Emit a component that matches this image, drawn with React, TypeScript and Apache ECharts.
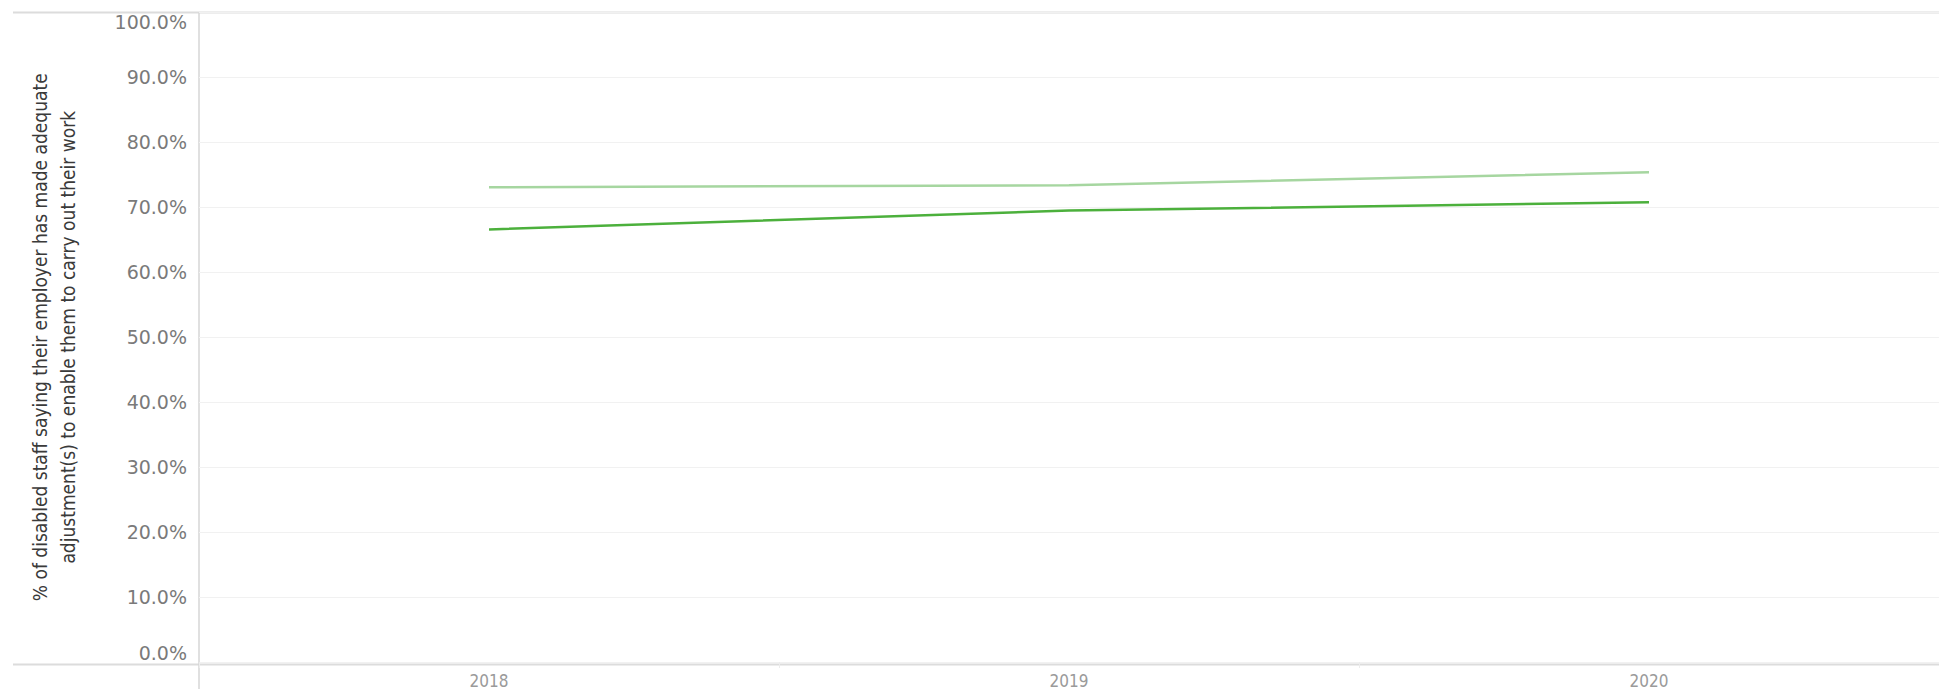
import React, { useEffect, useRef } from "react";
import * as echarts from "echarts";

const years = ["2018", "2019", "2020"];
const benchmarkValues = [73.1, 73.4, 75.4];
const organisationValues = [66.6, 69.5, 70.8];
const yAxisTitle =
  "% of disabled staff saying their employer has made adequate\nadjustment(s) to enable them to carry out their work";

const W = 1939;
const H = 689;
const AXIS_X = 199;
const TOP_Y = 12.5;
const BOTTOM_Y = 664.5;

export default function App() {
  const ref = useRef<HTMLDivElement>(null);
  useEffect(() => {
    document.body.style.margin = "0";
    if (!ref.current) return;
    const chart = echarts.init(ref.current, undefined, { renderer: "svg" });
    chart.setOption({
      animation: false,
      backgroundColor: "#ffffff",
      grid: {
        left: AXIS_X,
        top: TOP_Y,
        bottom: H - BOTTOM_Y,
        right: -15,
        containLabel: false,
      },
      xAxis: {
        type: "category",
        data: years,
        boundaryGap: true,
        axisLine: { show: false },
        axisTick: { show: true, length: 6, lineStyle: { color: "#ececec", width: 1 } },
        axisLabel: {
          margin: 10,
          color: "#9a9a9a",
          fontFamily: "DejaVu Sans Condensed",
          fontSize: 17,
        },
        splitLine: { show: false },
      },
      yAxis: {
        type: "value",
        min: 0,
        max: 100,
        interval: 10,
        axisLine: { show: false },
        axisTick: { show: false },
        splitLine: { show: true, lineStyle: { color: "#f1f1f1", width: 1 } },
        axisLabel: {
          margin: 12,
          color: "#7a7a7a",
          fontFamily: "DejaVu Sans",
          fontSize: 19,
          formatter: (v: number) => v.toFixed(1) + "%",
          verticalAlignMinLabel: "bottom",
          verticalAlignMaxLabel: "top",
        },
        name: yAxisTitle,
        nameLocation: "middle",
        nameGap: 117,
        nameRotate: 90,
        nameTextStyle: {
          color: "#3a3a3a",
          fontFamily: "DejaVu Sans Condensed",
          fontSize: 19,
          lineHeight: 28,
          align: "center",
        },
      },
      series: [
        {
          name: "Benchmark",
          type: "line",
          data: benchmarkValues,
          symbol: "none",
          lineStyle: { color: "#a6d6a0", width: 2.5 },
          itemStyle: { color: "#a6d6a0" },
        },
        {
          name: "Organisation",
          type: "line",
          data: organisationValues,
          symbol: "none",
          lineStyle: { color: "#4cb03c", width: 2.5 },
          itemStyle: { color: "#4cb03c" },
        },
      ],
      graphic: [
        {
          type: "line",
          shape: { x1: 13, y1: TOP_Y, x2: W, y2: TOP_Y },
          style: { stroke: "#dcdcdc", lineWidth: 2 },
          silent: true,
        },
        {
          type: "line",
          shape: { x1: 13, y1: BOTTOM_Y, x2: W, y2: BOTTOM_Y },
          style: { stroke: "#dcdcdc", lineWidth: 2 },
          silent: true,
        },
        {
          type: "line",
          shape: { x1: AXIS_X, y1: TOP_Y, x2: AXIS_X, y2: H },
          style: { stroke: "#d6d6d6", lineWidth: 1.5 },
          silent: true,
        },
      ],
    });
    return () => chart.dispose();
  }, []);
  return <div ref={ref} style={{ width: W, height: H }} />;
}
